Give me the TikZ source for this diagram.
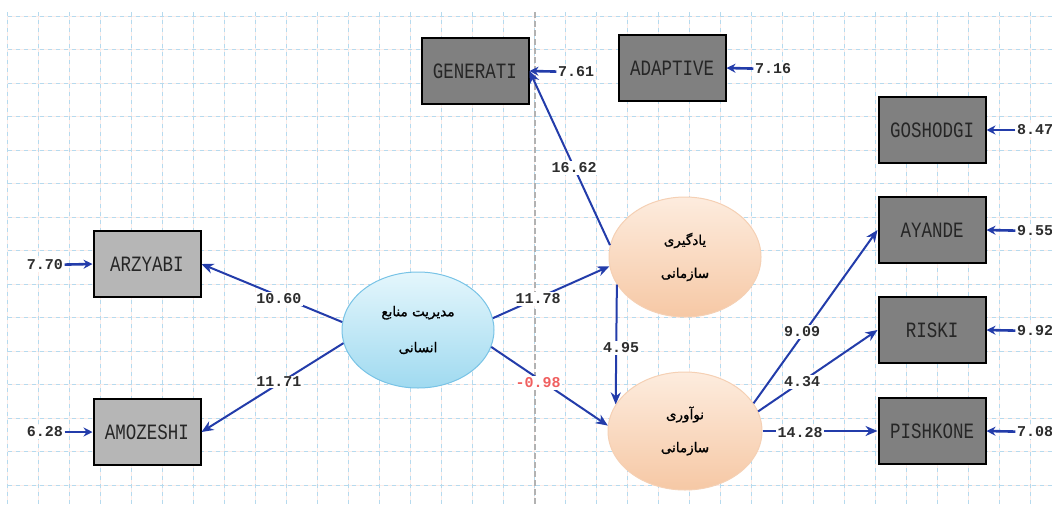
\documentclass[tikz,border=0pt]{standalone}
\usepackage{fontspec}
\usepackage{graphicx}
\setmonofont{Liberation Mono}
\newfontfamily\arabicfont[Script=Arabic,FakeBold=1.3]{DejaVu Sans}
\TeXXeTstate=1
\usetikzlibrary{arrows.meta,shapes.geometric}
\definecolor{arrowblue}{RGB}{35,60,170}
\definecolor{gridblue}{RGB}{182,218,238}
\definecolor{gridpink}{RGB}{252,236,232}
\definecolor{boxdark}{RGB}{128,128,128}
\definecolor{boxlight}{RGB}{182,182,182}
\definecolor{redlabel}{RGB}{240,95,95}
\definecolor{numtext}{RGB}{45,45,45}
\tikzset{
  gridline/.style={gridblue, line width=1, dash pattern=on 4 off 4},
  gridunder/.style={gridpink, line width=1},
  obsdark/.style={draw=black, line width=2, fill=boxdark, minimum width=107, minimum height=66, inner sep=0, font=\ttfamily\fontsize{17.5}{18}\selectfont, text=black!85},
  obslight/.style={obsdark, fill=boxlight},
  latblue/.style={ellipse, draw={rgb,255:red,120;green,195;blue,230}, line width=1, top color={rgb,255:red,228;green,246;blue,252}, bottom color={rgb,255:red,160;green,218;blue,240}, minimum width=152, minimum height=116, inner sep=0, align=center, font=\arabicfont\fontsize{13.5}{36}\selectfont},
  latpeach/.style={latblue, draw={rgb,255:red,245;green,208;blue,180}, top color={rgb,255:red,253;green,236;blue,222}, bottom color={rgb,255:red,246;green,200;blue,165}, minimum height=120, font=\arabicfont\fontsize{13.5}{33}\selectfont},
  conn/.style={arrowblue, line width=2, -{Stealth[length=12,width=10]}},
  errarr/.style={arrowblue, line width=2.6, -{Stealth[length=9,width=9]}},
  lbl/.style={fill=white, inner sep=1.5, text=numtext, font=\ttfamily\bfseries\fontsize{15}{15}\selectfont},
  redlbl/.style={lbl, text=redlabel}
}
\newcommand{\boxtxt}[1]{\scalebox{1}[1.25]{#1}}
\begin{document}
\begin{tikzpicture}[x=1pt,y=-1pt]
\useasboundingbox (0,0) rectangle (1052,504);
\fill[white] (0,0) rectangle (1052,504);
% grid
\foreach \xx in {7,38,...,1030} { \draw[gridunder] (\xx,12) -- (\xx,504); }
\foreach \yy in {16,49.5,...,490} { \draw[gridunder] (8,\yy) -- (1052,\yy); }
\foreach \xx in {7,38,...,1030} { \draw[gridline] (\xx,12) -- (\xx,504); }
\foreach \yy in {16,49.5,...,490} { \draw[gridline] (8,\yy) -- (1052,\yy); }
\draw[black!30, line width=1.2, dash pattern=on 6 off 3] (535,12) -- (535,504);

% observed variables
\node[obslight] (arz) at (147,264) {\boxtxt{ARZYABI}};
\node[obslight] (amo) at (147,432) {\boxtxt{AMOZESHI}};
\node[obsdark] (gen) at (475,71) {\boxtxt{GENERATI}};
\node[obsdark] (ada) at (672,68) {\boxtxt{ADAPTIVE}};
\node[obsdark] (gos) at (932,130) {\boxtxt{GOSHODGI}};
\node[obsdark] (aya) at (932,230) {\boxtxt{AYANDE}};
\node[obsdark] (ris) at (932,330) {\boxtxt{RISKI}};
\node[obsdark] (pis) at (932,431) {\boxtxt{PISHKONE}};

% latent variables
\node[latblue] (hrm) at (418,330) {\beginR مدیریت منابع\endR\\\beginR انسانی\endR};
\node[latpeach] (yad) at (685,257) {\beginR یادگیری\endR\\\beginR سازمانی\endR};
\node[latpeach, minimum width=154, minimum height=118] (now) at (685,431) {\beginR نوآوری\endR\\\beginR سازمانی\endR};

% paths
\draw[conn] (hrm.174) -- (arz.east);
\draw[conn] (hrm.190) -- (amo.east);
\draw[conn] (hrm.9) -- (yad.187);
\draw[conn] (hrm.347) -- (now.176);
\draw[conn] (yad.202) -- (now.159);
\draw[conn] (yad.171) -- (gen.east);
\draw[conn] (now.22) -- (aya.west);
\draw[conn] (now.15) -- (ris.west);
\draw[conn] (now.east) -- (pis.west);

% path labels
\node[lbl] (p1) at (279,299) {10.60};
\node[lbl] (p2) at (279,382) {11.71};
\node[lbl] (p3) at (538,299) {11.78};
\node[redlbl] (p4) at (538,383) {-0.98};
\node[lbl] (p5) at (621,348) {4.95};
\node[lbl] (p6) at (574,168) {16.62};
\node[lbl] (p7) at (802,332) {9.09};
\node[lbl] (p8) at (802,382) {4.34};
\node[lbl] (p9) at (800,433) {14.28};

% error terms
\node[lbl] (e1) at (45,265) {7.70};
\node[lbl] (e2) at (45,432) {6.28};
\node[lbl] (e3) at (576,72) {7.61};
\node[lbl] (e4) at (773,69) {7.16};
\node[lbl] (e5) at (1035,130) {8.47};
\node[lbl] (e6) at (1035,231) {9.55};
\node[lbl] (e7) at (1035,331) {9.92};
\node[lbl] (e8) at (1035,432) {7.08};
\draw[errarr] (e1) -- (arz.west);
\draw[errarr] (e2) -- (amo.west);
\draw[errarr] (e3) -- (gen.east);
\draw[errarr] (e4) -- (ada.east);
\draw[errarr] (e5) -- (gos.east);
\draw[errarr] (e6) -- (aya.east);
\draw[errarr] (e7) -- (ris.east);
\draw[errarr] (e8) -- (pis.east);
\end{tikzpicture}
\end{document}
